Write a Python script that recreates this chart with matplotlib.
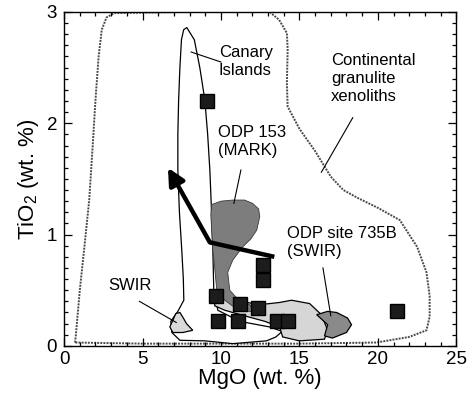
import matplotlib
matplotlib.use("Agg")
import matplotlib.pyplot as plt
from matplotlib.patches import Polygon
from matplotlib.ticker import MultipleLocator

plt.rcParams['font.family'] = ['Liberation Sans', 'DejaVu Sans']
plt.rcParams['mathtext.fontset'] = 'custom'
plt.rcParams['mathtext.rm'] = 'Liberation Sans'

# outlines of the fields (MgO, TiO2)
granulite = [(0.7, 0.03), (0.75, 0.1), (1.0, 0.5), (1.3, 0.9), (1.6, 1.31), (1.8, 1.75),
             (2.0, 2.21), (2.2, 2.6), (2.4, 2.84), (2.7, 2.95), (3.2, 2.99), (8.0, 3.0),
             (13.1, 3.0), (13.7, 2.93), (14.2, 2.81), (14.25, 2.66), (14.2, 2.36),
             (14.25, 2.15), (15.0, 1.95), (16.0, 1.75), (17.0, 1.52), (17.8, 1.40),
             (18.7, 1.33), (20.0, 1.24), (21.4, 1.13), (22.5, 0.89), (23.1, 0.66),
             (23.3, 0.45), (23.3, 0.26), (23.1, 0.14), (22.0, 0.08), (19.9, 0.03),
             (15.0, 0.02), (5.0, 0.02)]
canary = [(7.82, 2.86), (8.3, 2.75), (8.65, 2.50), (8.97, 2.21), (9.15, 1.9), (9.29, 1.58),
          (9.40, 1.2), (9.48, 0.86), (9.54, 0.50), (9.8, 0.32), (11.2, 0.22), (13.1, 0.17),
          (13.9, 0.13), (13.5, 0.08), (12.9, 0.045), (10.75, 0.02), (8.97, 0.045),
          (7.38, 0.05), (6.87, 0.12), (6.8, 0.22), (7.25, 0.31), (7.63, 0.41), (7.6, 0.6),
          (7.5, 0.86), (7.35, 1.2), (7.25, 1.58), (7.25, 1.9), (7.3, 2.21), (7.38, 2.5),
          (7.48, 2.75), (7.62, 2.84)]
mark = [(9.41, 1.27), (10.0, 1.30), (10.75, 1.31), (11.5, 1.31), (12.02, 1.28), (12.4, 1.23),
        (12.47, 1.16), (12.28, 1.04), (11.9, 0.96), (11.39, 0.89), (10.75, 0.77), (10.43, 0.66),
        (10.56, 0.50), (11.0, 0.43), (11.83, 0.37), (12.15, 0.31), (11.2, 0.31), (10.24, 0.41),
        (9.73, 0.50), (9.6, 0.7), (9.48, 0.86), (9.35, 1.18)]
swir_735b_light = [(9.6, 0.43), (10.88, 0.41), (12.47, 0.37), (13.74, 0.39), (14.5, 0.41),
                   (15.65, 0.38), (16.4, 0.28), (16.8, 0.14), (16.6, 0.06), (15.0, 0.045),
                   (13.93, 0.08), (13.74, 0.17), (12.8, 0.22), (11.5, 0.27), (10.24, 0.32),
                   (9.6, 0.36)]
swir_735b_dark = [(16.1, 0.28), (16.8, 0.31), (17.37, 0.30), (18.07, 0.25), (18.32, 0.19),
                  (18.0, 0.12), (17.1, 0.07), (16.6, 0.09), (16.8, 0.19)]
swir_small = [(7.12, 0.29), (7.38, 0.30), (7.6, 0.25), (7.8, 0.2), (8.2, 0.14), (7.57, 0.12),
              (6.93, 0.12), (6.74, 0.17)]

# samples (black squares)
sample_mgo = [9.1, 12.66, 12.66, 9.67, 11.2, 12.34, 9.8, 11.07, 13.55, 14.25, 21.25]
sample_tio2 = [2.20, 0.73, 0.59, 0.45, 0.38, 0.34, 0.22, 0.22, 0.22, 0.22, 0.31]

# trend arrow
trend_mgo = [13.4, 9.29, 6.62]
trend_tio2 = [0.80, 0.93, 1.60]

fig = plt.figure(figsize=(4.68, 3.98), dpi=100)
ax = fig.add_axes([0.137, 0.131, 0.838, 0.839])

ax.add_patch(Polygon(granulite, closed=True, fill=False, ec='#4a4a4a', lw=1.4,
                     ls=(0, (1, 0.6)), zorder=1))
ax.add_patch(Polygon(canary, closed=True, fc='white', ec='black', lw=0.9, zorder=2))
ax.add_patch(Polygon(swir_735b_light, closed=True, fc='#d6d6d6', ec='black', lw=0.9, zorder=3))
ax.add_patch(Polygon(mark, closed=True, fc='#7d7d7d', ec='#3a3a3a', lw=0.6, zorder=3))
ax.add_patch(Polygon(swir_735b_dark, closed=True, fc='#8a8a8a', ec='black', lw=0.9, zorder=3))
ax.add_patch(Polygon(swir_small, closed=True, fc='#dadada', ec='black', lw=0.9, zorder=3))

ax.plot(sample_mgo, sample_tio2, 's', ms=10.5, mfc='#1c1c1c', mec='black', zorder=5)

ax.plot(trend_mgo[:2], trend_tio2[:2], color='black', lw=3.2, solid_capstyle='butt', zorder=6)
ax.annotate('', xy=(trend_mgo[2], trend_tio2[2]), xytext=(trend_mgo[1], trend_tio2[1]),
            arrowprops=dict(arrowstyle='-|>,head_length=1.0,head_width=0.5', lw=3.2,
                            color='black', shrinkA=0, shrinkB=0), zorder=6)

# labels and leader lines
fs = 12
ls = 1.25
ax.text(9.87, 2.70, 'Canary\nIslands', fontsize=fs, va='top', ha='left', linespacing=ls)
ax.plot([8.1, 10.0], [2.64, 2.55], color='black', lw=0.8, zorder=4)
ax.text(17.0, 2.63, 'Continental\ngranulite\nxenoliths', fontsize=fs, va='top', ha='left',
        linespacing=ls)
ax.plot([18.4, 16.4], [2.05, 1.56], color='black', lw=0.8, zorder=4)
ax.text(9.8, 1.98, 'ODP 153\n(MARK)', fontsize=fs, va='top', ha='left', linespacing=ls)
ax.plot([11.27, 10.82], [1.58, 1.28], color='black', lw=0.8, zorder=4)
ax.text(14.2, 1.08, 'ODP site 735B\n(SWIR)', fontsize=fs, va='top', ha='left', linespacing=ls)
ax.plot([16.5, 17.0], [0.70, 0.27], color='black', lw=0.8, zorder=4)
ax.text(2.8, 0.61, 'SWIR', fontsize=fs, va='top', ha='left')
ax.plot([4.8, 7.15], [0.40, 0.21], color='black', lw=0.8, zorder=4)

ax.set_xlim(0, 25)
ax.set_ylim(0, 3)
ax.xaxis.set_major_locator(MultipleLocator(5))
ax.xaxis.set_minor_locator(MultipleLocator(1))
ax.yaxis.set_major_locator(MultipleLocator(1))
ax.yaxis.set_minor_locator(MultipleLocator(0.1))
ax.tick_params(which='both', direction='in', top=True, right=True, labelsize=13.5, width=0.9)
ax.tick_params(which='major', length=6)
ax.tick_params(which='minor', length=3)
ax.tick_params(axis='x', which='major', pad=4)
ax.tick_params(axis='y', which='major', pad=5)
for s in ax.spines.values():
    s.set_linewidth(1.0)
ax.set_xlabel('MgO (wt. %)', fontsize=16, labelpad=0)
ax.set_ylabel('TiO$_2$ (wt. %)', fontsize=16, labelpad=4)

fig.savefig('out.png', dpi=100)
